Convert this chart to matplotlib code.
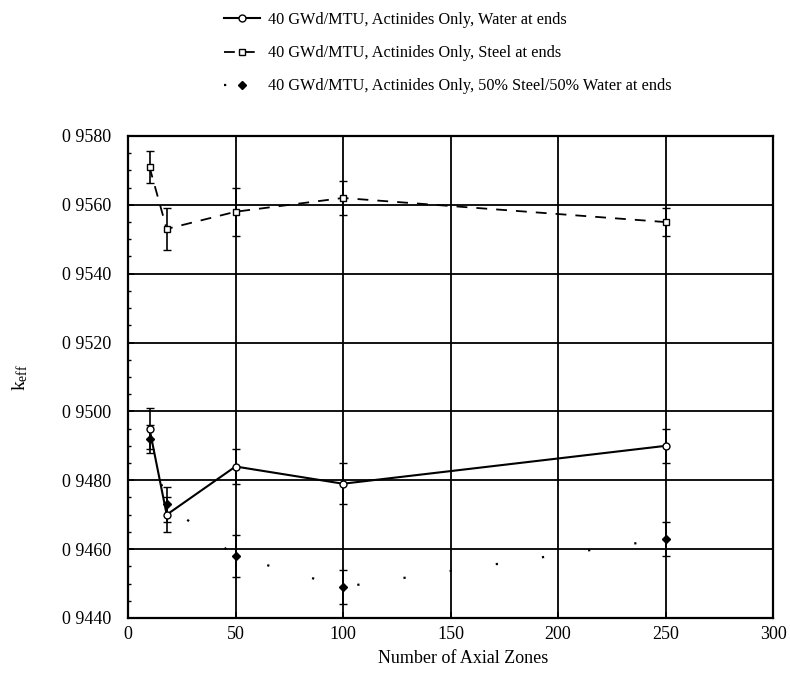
import matplotlib
matplotlib.use("Agg")
import matplotlib.pyplot as plt
from matplotlib.lines import Line2D
from matplotlib.ticker import FixedLocator, FuncFormatter, MultipleLocator

plt.rcParams['font.family'] = ['Liberation Serif', 'DejaVu Serif']
plt.rcParams['mathtext.fontset'] = 'custom'
plt.rcParams['mathtext.rm'] = 'Liberation Serif'
plt.rcParams['mathtext.it'] = 'Liberation Serif'

zones = [10, 18, 50, 100, 250]

water_k = [0.9495, 0.9470, 0.9484, 0.9479, 0.9490]
water_err = [0.0006, 0.0005, 0.0005, 0.0006, 0.0005]

steel_k = [0.9571, 0.9553, 0.9558, 0.9562, 0.9555]
steel_err = [0.00047, 0.0006, 0.0007, 0.0005, 0.0004]

mix_k = [0.9492, 0.9473, 0.9458, 0.9449, 0.9463]
mix_err = [0.0004, 0.0005, 0.0006, 0.0005, 0.0005]

labels = ["40 GWd/MTU, Actinides Only, Water at ends",
          "40 GWd/MTU, Actinides Only, Steel at ends",
          "40 GWd/MTU, Actinides Only, 50% Steel/50% Water at ends"]

yticks = [0.9440, 0.9460, 0.9480, 0.9500, 0.9520, 0.9540, 0.9560, 0.9580]
xticks = [0, 50, 100, 150, 200, 250, 300]

fig = plt.figure(figsize=(7.9, 6.75), dpi=100)
ax = fig.add_axes([128/790, 1-618/675, (773-128)/790, (618-136)/675])

styles = [
    dict(lw=1.5, ls='-', marker='o', ms=5, mfc='white'),
    dict(lw=1.3, ls=(0, (6, 5)), marker='s', ms=5, mfc='white'),
    dict(lw=1.6, ls=(0, (1, 20)), marker='D', ms=4, mfc='black'),
]
eb = dict(ecolor='black', elinewidth=1.2, capsize=3, capthick=1.2)
for k, e, st in zip([water_k, steel_k, mix_k], [water_err, steel_err, mix_err], styles):
    ax.errorbar(zones, k, yerr=e, color='black', mec='black', mew=1.0,
                zorder=4, **st, **eb)

ax.set_xlim(0, 300)
ax.set_ylim(0.9440, 0.9580)
ax.xaxis.set_major_locator(FixedLocator(xticks))
ax.yaxis.set_major_locator(FixedLocator(yticks))
ax.yaxis.set_minor_locator(MultipleLocator(0.0005))
ax.yaxis.set_major_formatter(FuncFormatter(lambda v, p: ("%.4f" % v).replace('.', ' ')))
ax.grid(True, which='major', color='black', lw=1.3)
ax.set_axisbelow(True)
for s in ax.spines.values():
    s.set_linewidth(1.6)
ax.tick_params(axis='y', which='major', direction='in', length=4, width=1.2,
               labelsize=13, pad=12)
ax.tick_params(axis='x', which='major', direction='in', length=4, width=1.2,
               labelsize=13, pad=6)
ax.tick_params(axis='y', which='minor', direction='in', length=2.5, width=1)

ax.set_xlabel("Number of Axial Zones", fontsize=13)
ax.xaxis.set_label_coords(0.52, -0.066)
ax.set_ylabel(r"$\mathregular{k_{eff}}$", fontsize=14)
ax.yaxis.set_label_coords(-0.152, 0.5)

handles = [Line2D([], [], color='black', mec='black', mew=1.0, **st) for st in styles]
fig.legend(handles=handles, labels=labels, loc='upper left',
           bbox_to_anchor=(216/790, 1-4/675), frameon=False,
           fontsize=11.7, labelspacing=1.05, handlelength=2.2,
           handletextpad=0.5, borderpad=0)

fig.savefig("out.png", dpi=100)
